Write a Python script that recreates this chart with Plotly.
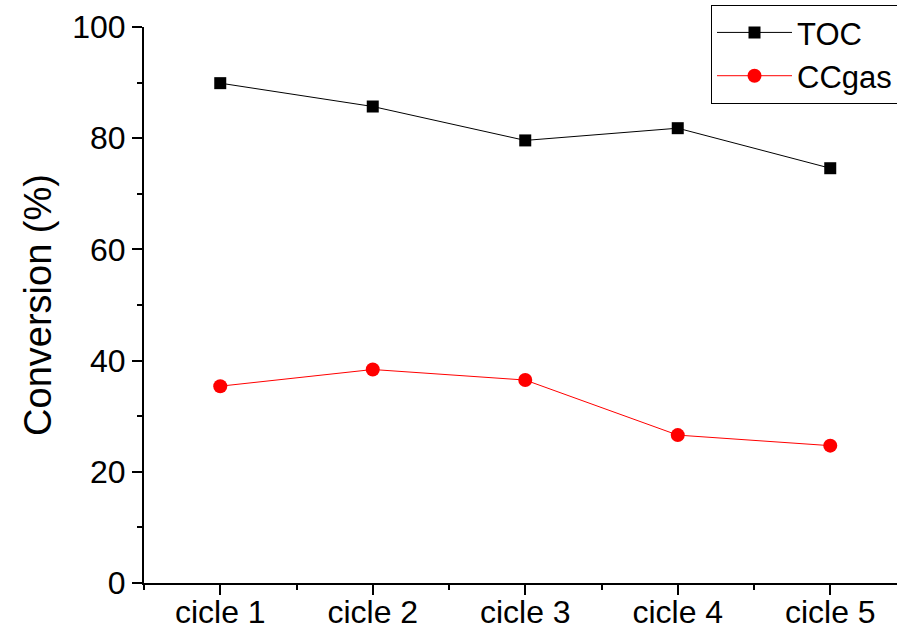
import plotly.graph_objects as go

# Conversion over five reuse cycles
cycles = ["cicle 1", "cicle 2", "cicle 3", "cicle 4", "cicle 5"]
toc = [89.9, 85.7, 79.6, 81.8, 74.6]
ccgas = [35.4, 38.4, 36.5, 26.6, 24.7]

x_pos = list(range(1, len(cycles) + 1))
font_family = "Arial, Liberation Sans, sans-serif"

fig = go.Figure()
fig.add_trace(go.Scatter(
    x=x_pos, y=toc, name="TOC", mode="lines+markers",
    line=dict(color="black", width=1),
    marker=dict(symbol="square", size=12, color="black"),
))
fig.add_trace(go.Scatter(
    x=x_pos, y=ccgas, name="CCgas", mode="lines+markers",
    line=dict(color="red", width=1),
    marker=dict(symbol="circle", size=14, color="red"),
))

plot_w = 897 - 144
fig.update_layout(
    width=897, height=630,
    margin=dict(l=144, r=0, t=27, b=47, autoexpand=False),
    paper_bgcolor="white", plot_bgcolor="white",
    font=dict(family=font_family, size=32, color="black"),
    showlegend=True,
    legend=dict(
        x=(711 - 144) / plot_w, y=1.04, xanchor="left", yanchor="top",
        font=dict(size=31),
        bordercolor="black", borderwidth=1,
        bgcolor="white",
        itemwidth=75,
        entrywidth=240, entrywidthmode="pixels",
        tracegroupgap=0,
    ),
)

fig.update_xaxes(
    range=[0.5, 0.5 + plot_w / 152.5],
    automargin=False,
    tickmode="array", tickvals=x_pos, ticktext=cycles,
    ticks="outside", ticklen=10, tickwidth=2, tickcolor="black",
    ticklabelstandoff=-10,
    showline=True, linecolor="black", linewidth=2,
    showgrid=False, zeroline=False,
    minor=dict(tickmode="array", tickvals=[0.5, 1.5, 2.5, 3.5, 4.5],
               ticks="outside", ticklen=5, tickwidth=2, tickcolor="black"),
    tickfont=dict(size=32),
)
fig.update_yaxes(
    range=[0, 100],
    automargin=False,
    tickmode="array", tickvals=[0, 20, 40, 60, 80, 100],
    ticks="outside", ticklen=10, tickwidth=2, tickcolor="black",
    showline=True, linecolor="black", linewidth=2,
    showgrid=False, zeroline=False,
    minor=dict(tickmode="array", tickvals=[10, 30, 50, 70, 90],
               ticks="outside", ticklen=5, tickwidth=2, tickcolor="black"),
    tickfont=dict(size=32),
    title=dict(text="Conversion (%)", font=dict(size=38), standoff=9),
)

fig.write_html("out.html")
